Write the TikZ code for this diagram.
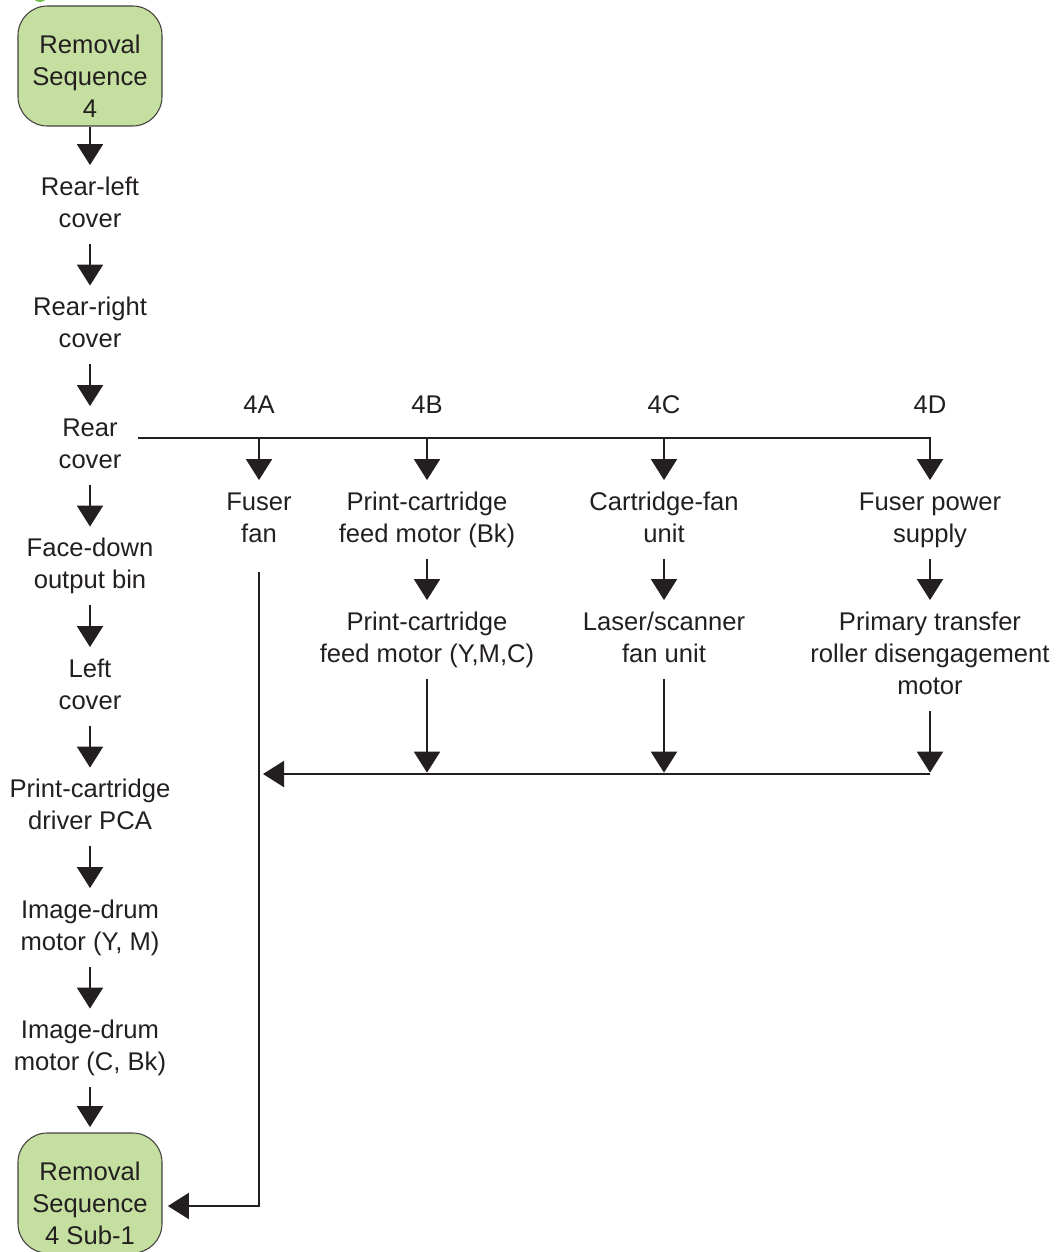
\documentclass[tikz,border=0pt]{standalone}
\usepackage{fontspec}
\setmainfont{Liberation Sans}
\usetikzlibrary{arrows.meta,calc}
\definecolor{ink}{HTML}{231F20}
\definecolor{termfill}{HTML}{C4DFA0}
\definecolor{headdot}{HTML}{6CBE45}
% strut giving every text line the same height and depth
\newcommand{\lnstrut}{\rule[-0.22em]{0pt}{1.18em}}

\begin{document}
\begin{tikzpicture}[x=0.75pt,y=-0.75pt,
  every node/.style={text=ink, font=\fontsize{19.2pt}{24pt}\selectfont},
  part/.style={align=center, inner sep=0pt, anchor=north},
  tag/.style={inner sep=0pt, anchor=base},
  term/.style={draw=ink!85, line width=0.8pt, fill=termfill, rounded corners=22pt,
               minimum width=108pt, minimum height=90pt, inner sep=0pt},
  termtext/.style={align=center, inner sep=0pt},
  wire/.style={draw=ink, line width=1.5pt},
  flow/.style={wire, -{Triangle[length=15.75pt,width=19.5pt]}, shorten >=4pt},
  fromtext/.style={shorten <=7.8pt}
]
\useasboundingbox (0,0) rectangle (1058,1252);

% heading bullet, mostly above the page
\fill[headdot] (40,-6) circle (8);

% start and end terminals
\node[term] (seqtop) at (90,66) {};
\node[termtext] (seqtoptext) at ($(seqtop)+(0,10.5)$) {\lnstrut Removal\\Sequence\\4\lnstrut};
\node[term] (seqsub) at (90,1193) {};
\node[termtext] (seqsubtext) at ($(seqsub)+(0,10.5)$) {\lnstrut Removal\\Sequence\\4 Sub-1\lnstrut};

% main removal column
\node[part] (rearleft)  at (90,170.4)  {\lnstrut Rear-left\\cover\lnstrut};
\node[part] (rearright) at (90,290.9)  {\lnstrut Rear-right\\cover\lnstrut};
\node[part] (rear)      at (90,411.4)  {\lnstrut Rear\\cover\lnstrut};
\node[part] (facedown)  at (90,531.9)  {\lnstrut Face-down\\output bin\lnstrut};
\node[part] (leftcov)   at (90,652.4)  {\lnstrut Left\\cover\lnstrut};
\node[part] (driverpca) at (90,772.9)  {\lnstrut Print-cartridge\\driver PCA\lnstrut};
\node[part] (drumym)    at (90,893.4)  {\lnstrut Image-drum\\motor (Y, M)\lnstrut};
\node[part] (drumck)    at (90,1013.9) {\lnstrut Image-drum\\motor (C, Bk)\lnstrut};

% branch labels
\node[tag] (labA) at (259,413) {4A};
\node[tag] (labB) at (427,413) {4B};
\node[tag] (labC) at (664,413) {4C};
\node[tag] (labD) at (930,413) {4D};

% branch parts
\node[part] (fuserfan) at (259,485.4) {\lnstrut Fuser\\fan\lnstrut};
\node[part] (feedbk)   at (427,485.4) {\lnstrut Print-cartridge\\feed motor (Bk)\lnstrut};
\node[part] (cfan)     at (664,485.4) {\lnstrut Cartridge-fan\\unit\lnstrut};
\node[part] (fps)      at (930,485.4) {\lnstrut Fuser power\\supply\lnstrut};
\node[part] (feedymc)  at (427,605.4) {\lnstrut Print-cartridge\\feed motor (Y,M,C)\lnstrut};
\node[part] (lsfan)    at (664,605.4) {\lnstrut Laser/scanner\\fan unit\lnstrut};
\node[part] (ptrdm)    at (930,605.4) {\lnstrut Primary transfer\\roller disengagement\\motor\lnstrut};

\coordinate (busL)  at (138,438);
\coordinate (merge) at (259,774);
\coordinate (subin) at ($(seqsub.east)+(0,13)$);

% main column flow
\draw[flow] (seqtop) -- (rearleft);
\draw[flow,fromtext] (rearleft) -- (rearright);
\draw[flow,fromtext] (rearright) -- (rear);
\draw[flow,fromtext] (rear) -- (facedown);
\draw[flow,fromtext] (facedown) -- (leftcov);
\draw[flow,fromtext] (leftcov) -- (driverpca);
\draw[flow,fromtext] (driverpca) -- (drumym);
\draw[flow,fromtext] (drumym) -- (drumck);
\draw[flow,fromtext] (drumck) -- (seqsub);

% branch bus from the rear cover
\draw[flow] (busL) -| (fps.north);
\draw[flow] (busL -| fuserfan) -- (fuserfan);
\draw[flow] (busL -| feedbk) -- (feedbk);
\draw[flow] (busL -| cfan) -- (cfan);

% second steps of the branches
\draw[flow,fromtext] (feedbk) -- (feedymc);
\draw[flow,fromtext] (cfan) -- (lsfan);
\draw[flow,fromtext] (fps) -- (ptrdm);

% branches rejoining
\draw[flow,fromtext,shorten >=1pt] (feedymc) -- (feedymc |- merge);
\draw[flow,fromtext,shorten >=1pt] (lsfan) -- (lsfan |- merge);
\draw[flow,fromtext,shorten >=1pt] (ptrdm) -- (ptrdm |- merge);
\draw[flow,shorten >=3pt] (ptrdm |- merge) -- (merge);

% return line to the sub-sequence
\draw[flow,shorten <=18pt] (fuserfan) |- (subin);
\end{tikzpicture}
\end{document}
